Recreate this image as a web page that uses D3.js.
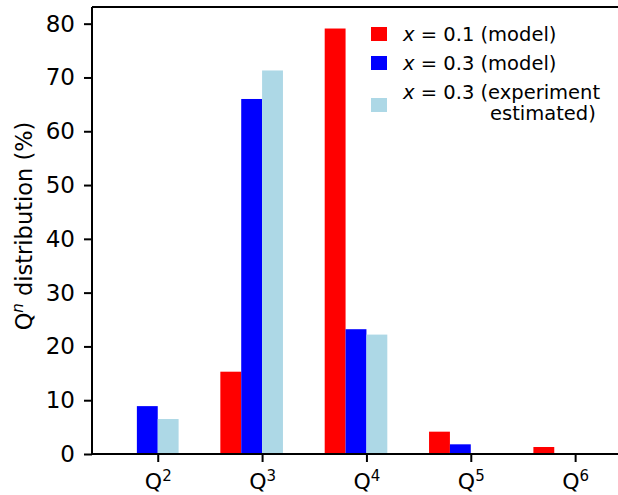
<!DOCTYPE html>
<html>
<head>
<meta charset="utf-8">
<script src="https://cdn.jsdelivr.net/npm/d3@7"></script>
<style>
  html, body { margin: 0; padding: 0; background: #fff; }
  svg { display: block; font-family: "DejaVu Sans", sans-serif; }
</style>
</head>
<body>
<svg id="chart" width="618" height="495"></svg>
<script>
// Q^n species (n = number of bridging oxygens)
const qOrders = [2, 3, 4, 5, 6];
const tickLabels = ["2", "3", "4", "5", "6"];

// Distribution in percent
const model01 = [0, 15.3, 79.1, 4.15, 1.3];      // x = 0.1 (model)
const model03 = [8.9, 66.0, 23.2, 1.8, 0];       // x = 0.3 (model)
const experiment03 = [6.5, 71.3, 22.2, 0, 0];    // x = 0.3 (experiment estimated)

const yTicks = [0, 10, 20, 30, 40, 50, 60, 70, 80];

const series = [
  { name: "0.1 (model)", values: model01, color: "#ff0000", offset: -0.4 },
  { name: "0.3 (model)", values: model03, color: "#0000ff", offset: -0.2 },
  { name: "0.3 (experiment", values: experiment03, color: "#add8e6", offset: 0.0 }
];
const barWidth = 0.2;

const svg = d3.select("#chart");
const plot = { left: 92, right: 620, top: 7, bottom: 454 };

const x = d3.scaleLinear().domain([1.37, 6.43]).range([plot.left, plot.right]);
const y = d3.scaleLinear().domain([0, 83.1]).range([plot.bottom, plot.top]);

// Bars
series.forEach(s => {
  svg.append("g")
    .selectAll("rect")
    .data(s.values.map((v, i) => ({ n: qOrders[i], v })))
    .join("rect")
    .attr("x", d => x(d.n + s.offset))
    .attr("width", d => x(d.n + s.offset + barWidth) - x(d.n + s.offset))
    .attr("y", d => y(d.v))
    .attr("height", d => y(0) - y(d.v))
    .attr("fill", s.color);
});

// Top spine
svg.append("line")
  .attr("x1", plot.left).attr("x2", plot.right)
  .attr("y1", plot.top).attr("y2", plot.top)
  .attr("stroke", "#000").attr("stroke-width", 2);

// Y axis
const yAxis = svg.append("g")
  .attr("transform", `translate(${plot.left},0)`)
  .call(d3.axisLeft(y).tickValues(yTicks).tickSize(8).tickPadding(9).tickFormat(d3.format("d")));
yAxis.select(".domain").attr("stroke-width", 2).attr("d", `M0,${plot.top}V${plot.bottom}`);
yAxis.selectAll(".tick line").attr("stroke-width", 2);
yAxis.selectAll(".tick text")
  .attr("font-size", 23)
  .attr("font-family", "DejaVu Sans")
  .attr("fill", "#000");

// X axis
const xAxis = svg.append("g")
  .attr("transform", `translate(0,${plot.bottom})`)
  .call(d3.axisBottom(x).tickValues(qOrders).tickSize(8).tickFormat(() => ""));
xAxis.select(".domain").attr("stroke-width", 2).attr("d", `M${plot.left},0H${plot.right}`);
xAxis.selectAll(".tick line").attr("stroke-width", 2);

// Q^n tick labels with superscripts
xAxis.selectAll(".tick").each(function(d, i) {
  const t = d3.select(this).append("text")
    .attr("y", 35)
    .attr("text-anchor", "middle")
    .attr("font-size", 22)
    .attr("font-family", "DejaVu Sans")
    .attr("fill", "#000");
  t.append("tspan").text("Q");
  t.append("tspan").attr("font-size", 15).attr("dy", -8).text(tickLabels[i]);
});

// Y axis title
const yTitle = svg.append("text")
  .attr("transform", `translate(32,226) rotate(-90)`)
  .attr("text-anchor", "middle")
  .attr("font-size", 22.5)
  .attr("fill", "#000");
yTitle.append("tspan").text("Q");
yTitle.append("tspan").attr("font-size", 15).attr("font-style", "italic").attr("dy", -9).text("n");
yTitle.append("tspan").attr("dy", 9).text(" distribution (%)");

// Legend
const legend = svg.append("g");
const rows = [
  { s: series[0], patchY: 27, baseY: 41, extra: null },
  { s: series[1], patchY: 56, baseY: 70, extra: null },
  { s: series[2], patchY: 98, baseY: 99, extra: "estimated)" }
];
rows.forEach(r => {
  legend.append("rect")
    .attr("x", 371).attr("y", r.patchY)
    .attr("width", 16).attr("height", 14)
    .attr("fill", r.s.color);
  const t = legend.append("text")
    .attr("x", 403).attr("y", r.baseY)
    .attr("font-size", 19.5)
    .attr("fill", "#000");
  t.append("tspan").attr("font-style", "italic").text("x");
  t.append("tspan").text(" = " + r.s.name);
  if (r.extra) {
    legend.append("text")
      .attr("x", 490).attr("y", r.baseY + 21)
      .attr("font-size", 19.5)
      .attr("fill", "#000")
      .text(r.extra);
  }
});
</script>
</body>
</html>
